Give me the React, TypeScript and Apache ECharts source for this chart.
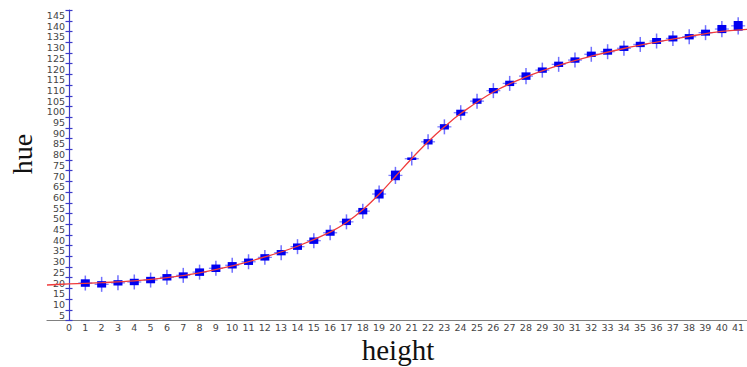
import React, { useEffect, useRef } from "react";
import * as echarts from "echarts";

// measured heights (x) and hue values (y)
const heights = [1,2,3,4,5,6,7,8,9,10,11,12,13,14,15,16,17,18,19,20,21,22,23,24,25,26,27,28,29,30,31,32,33,34,35,36,37,38,39,40,41];
const hueValues = [20,19.4,20.1,20.5,21.4,22.7,23.6,25.1,26.9,28.3,29.95,32,34.2,37,39.8,43.5,48.6,53.6,61.6,70.3,78.1,86,93,99.6,105,109.9,113.3,116.7,119.5,122.2,124.2,126.9,128.1,129.7,131.5,133.1,134.3,135.1,137,138.7,140.2];
// box size (full height, hue units) of each marker
const boxSizes = [3.5,3,2.5,3,3,3,2.8,3.5,3.5,3,3,3,2.5,3,3,2.8,3,3,4.2,4.5,1.2,2.5,2.5,2.8,2.5,2.5,2.5,3.5,2.5,2.5,2.5,2.5,2.8,2.5,2.5,2.8,2.8,2.5,2.8,3.8,4.5];
// whisker half-span (hue units)
const whiskers = [3.5,3.5,3.5,3.5,3.5,3.5,3.5,3.5,3.5,3.5,3.5,3.5,3.5,3.5,3.5,3.5,3.5,3.5,4,4,3.2,3.5,3.5,3.5,3.5,3.5,3.5,3.8,3.5,3.5,3.5,3.5,3.5,3.5,3.5,3.5,3.5,3.5,3.5,3.8,4];

// fitted red curve
const curveX = [-1.35,0,2,4,6,8,10,12,14,16,17,18,19,20,21,22,23,24,26,28,30,32,34,36,38,40,41.6];
const curveY = [19.1,19.6,20.2,21.0,22.5,24.8,28.0,32.2,37.2,43.8,48.3,54.2,61.5,69.8,78.2,86.0,93.0,99.2,109.3,116.3,121.7,126.0,129.6,132.6,135.3,137.6,138.6];

const xTickLabels = Array.from({ length: 42 }, (_, i) => String(i));

export default function App() {
  const ref = useRef<HTMLDivElement>(null);
  useEffect(() => {
    const chart = echarts.init(ref.current!, null, { renderer: "svg" });
    const gridTop = 10.2;
    const gridBottom = 367 - 320.5;
    const labelFont = { fontFamily: "DejaVu Sans", fontSize: 9.5, color: "#444" };
    const markerData = heights.map((h, i) => [h, hueValues[i], boxSizes[i], whiskers[i]]);
    const curveData = curveX.map((x, i) => [x, curveY[i]]);
    const tickColor = "#3a3ac8";
    chart.setOption({
      animation: false,
      backgroundColor: "#fff",
      grid: [
        // data grid (x from -1.35 to 41.54)
        { left: 47, right: 0, top: gridTop, bottom: gridBottom, containLabel: false, outerBoundsMode: "none" },
        // axes grid (x from 0 to 41)
        { left: 69, right: 9, top: gridTop, bottom: gridBottom, containLabel: false, outerBoundsMode: "none" },
      ],
      xAxis: [
        {
          type: "value", gridIndex: 0, min: -1.348, max: 41.54,
          axisLine: { show: true, onZero: false, lineStyle: { color: "#808080", width: 1.2 } },
          axisTick: { show: false }, axisLabel: { show: false }, splitLine: { show: false },
        },
        {
          type: "value", gridIndex: 1, min: 0, max: 41, interval: 1,
          axisLine: { show: false, onZero: false }, axisTick: { show: false }, splitLine: { show: false },
          axisLabel: { ...labelFont, margin: 2, formatter: (v: number) => xTickLabels[v] ?? "" },
        },
      ],
      yAxis: [
        {
          // inside ticks + blue axis line
          type: "value", gridIndex: 1, position: "left", min: 2.5, max: 147.5, interval: 5,
          axisLine: { show: true, onZero: false, lineStyle: { color: tickColor, width: 1.2 } },
          axisTick: { show: true, inside: true, length: 3.5, lineStyle: { color: tickColor, width: 1.2 } },
          axisLabel: { show: false }, splitLine: { show: false },
        },
        {
          // outside ticks
          type: "value", gridIndex: 1, position: "left", min: 2.5, max: 147.5, interval: 5,
          axisLine: { show: false, onZero: false },
          axisTick: { show: true, inside: false, length: 3.5, lineStyle: { color: tickColor, width: 1.2 } },
          axisLabel: { show: false }, splitLine: { show: false },
        },
        {
          // labels
          type: "value", gridIndex: 1, position: "left", min: 2.5, max: 147.5, interval: 2.5,
          axisLine: { show: false, onZero: false }, axisTick: { show: false }, splitLine: { show: false },
          axisLabel: {
            ...labelFont, margin: 4,
            formatter: (v: number) => (Math.abs(v % 5) < 1e-6 ? String(v) : ""),
          },
        },
        {
          type: "value", gridIndex: 0, min: 2.5, max: 147.5, show: false,
        },
      ],
      series: [
        {
          type: "custom",
          xAxisIndex: 0, yAxisIndex: 3,
          data: markerData,
          z: 2,
          renderItem: (params: any, api: any) => {
            const x = api.value(0), v = api.value(1), b = api.value(2), w = api.value(3);
            const c = api.coord([x, v]);
            const top = api.coord([x, v + b / 2]);
            const bot = api.coord([x, v - b / 2]);
            const wt = api.coord([x, v + w]);
            const wb = api.coord([x, v - w]);
            return {
              type: "group",
              children: [
                { type: "line", shape: { x1: c[0], y1: wt[1], x2: c[0], y2: wb[1] }, style: { stroke: "#7070ff", lineWidth: 1.5 } },
                { type: "line", shape: { x1: c[0] - 7, y1: c[1], x2: c[0] + 7, y2: c[1] }, style: { stroke: "#8080ff", lineWidth: 1.3 } },
                { type: "rect", shape: { x: c[0] - 4.5, y: top[1], width: 9, height: bot[1] - top[1] }, style: { fill: "#0000f0" } },
              ],
            };
          },
        },
        {
          type: "line",
          xAxisIndex: 0, yAxisIndex: 3,
          data: curveData,
          smooth: 0.4,
          showSymbol: false,
          symbol: "none",
          z: 3,
          lineStyle: { color: "#f03c3c", width: 1.3 },
        },
      ],
      graphic: [
        {
          type: "text", x: 22, y: 154, rotation: Math.PI / 2,
          style: { text: "hue", font: "28px 'Liberation Serif', 'Times New Roman', serif", fill: "#111", textAlign: "center", textVerticalAlign: "middle" },
        },
        {
          type: "text", x: 398, y: 350,
          style: { text: "height", font: "29px 'Liberation Serif', 'Times New Roman', serif", fill: "#111", textAlign: "center", textVerticalAlign: "middle" },
        },
      ],
    });
    return () => chart.dispose();
  }, []);
  return <div ref={ref} style={{ position: "absolute", left: 0, top: 0, width: 747, height: 367 }} />;
}
